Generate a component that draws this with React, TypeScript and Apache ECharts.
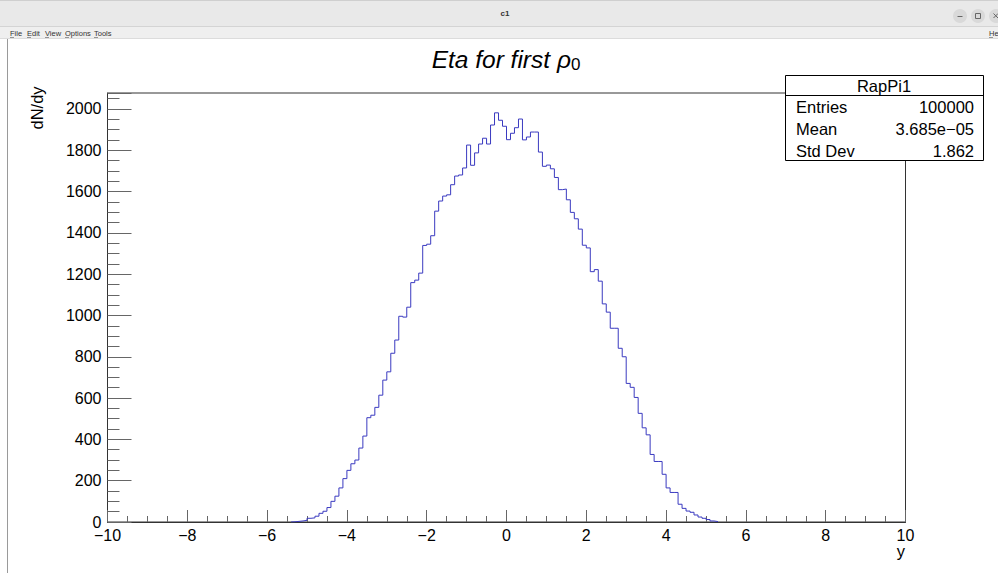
import React, { useEffect, useRef } from "react";
import * as echarts from "echarts";

// ---- data ----
const binStart = -5.4;
const binWidth = 0.1;
const counts = [
  1, 3, 5, 8, 18, 20, 28, 42, 52, 70,
  100, 125, 165, 210, 250, 282, 300, 358, 416, 505,
  517, 555, 614, 687, 727, 817, 881, 996, 992, 1040,
  1159, 1171, 1205, 1339, 1345, 1386, 1505, 1554, 1578, 1584,
  1633, 1675, 1680, 1714, 1825, 1727, 1787, 1830, 1858, 1830,
  1922, 1981, 1945, 1916, 1851, 1882, 1909, 1951, 1850, 1864,
  1888, 1888, 1791, 1722, 1728, 1710, 1668, 1609, 1612, 1560,
  1499, 1468, 1418, 1340, 1327, 1212, 1222, 1166, 1056, 1016,
  938, 938, 841, 800, 671, 652, 603, 526, 456, 422,
  327, 293, 293, 231, 165, 143, 143, 86, 66, 53,
  47, 34, 24, 18, 12, 5, 2,
];
const xMin = -10;
const xMax = 10;
const xInterval = 2;
const yMin = 0;
const yMax = 2077;
const yInterval = 200;
const titleMain = "Eta for first ρ";
const titleSub = "0";
const xTitle = "y";
const yTitle = "dN/dy";
const statsName = "RapPi1";
const statsLabels = ["Entries", "Mean", "Std Dev"];
const statsValues = ["100000", "3.685e−05", "1.862"];
const menuItems = ["File", "Edit", "View", "Options", "Tools"];

const FONT = "'Liberation Sans', Arial, Helvetica, sans-serif";

function buildSteps(): number[][] {
  const r = (v: number) => Math.round(v * 1000) / 1000;
  const pts: number[][] = [[r(binStart), 0]];
  counts.forEach((c, i) => pts.push([r(binStart + i * binWidth), c]));
  const endX = r(binStart + counts.length * binWidth);
  pts.push([endX, counts[counts.length - 1]]);
  pts.push([endX, 0]);
  return pts;
}

export default function App() {
  const ref = useRef<HTMLDivElement>(null);
  useEffect(() => {
    if (!ref.current) return;
    const chart = echarts.init(ref.current, undefined, { renderer: "svg" });

    const menuX = [10, 27, 45, 65, 94];
    const menuGraphics: any[] = [];
    menuItems.forEach((m, i) => {
      menuGraphics.push({
        type: "text",
        x: menuX[i],
        y: 33,
        style: { text: m, fontSize: 7.5, fontFamily: FONT, fill: "#333", verticalAlign: "middle", align: "left" },
      });
      menuGraphics.push({
        type: "line",
        shape: { x1: menuX[i], y1: 37.5, x2: menuX[i] + 4, y2: 37.5 },
        style: { stroke: "#555", lineWidth: 0.6 },
      });
    });

    const statRows: any[] = [];
    const rowY = [107, 129, 150.5];
    statsLabels.forEach((l, i) => {
      statRows.push({
        type: "text",
        x: 796,
        y: rowY[i],
        style: { text: l, fontSize: 16.5, fontFamily: FONT, fill: "#000", align: "left", verticalAlign: "middle" },
      });
      statRows.push({
        type: "text",
        x: 974,
        y: rowY[i],
        style: { text: statsValues[i], fontSize: 16.5, fontFamily: FONT, fill: "#000", align: "right", verticalAlign: "middle" },
      });
    });

    chart.setOption({
      animation: false,
      backgroundColor: "#ffffff",
      grid: {
        left: 107.5,
        top: 93,
        width: 798,
        height: 429,
        show: true,
        borderColor: "#333",
        borderWidth: 1,
        backgroundColor: "transparent",
        containLabel: false,
      },
      xAxis: {
        type: "value",
        min: xMin,
        max: xMax,
        interval: xInterval,
        axisLine: { show: true, onZero: false, lineStyle: { color: "#333", width: 1 } },
        axisTick: { show: true, inside: true, length: 12, lineStyle: { color: "#666", width: 1 } },
        minorTick: { show: true, splitNumber: 4, length: 6, lineStyle: { color: "#666", width: 1 } },
        splitLine: { show: false },
        minorSplitLine: { show: false },
        axisLabel: {
          show: true,
          margin: 6,
          fontSize: 16,
          lineHeight: 14,
          fontFamily: FONT,
          color: "#000",
          hideOverlap: false,
          formatter: (v: number) => (v < 0 ? "−" + Math.abs(v) : String(v)),
        },
      },
      yAxis: {
        type: "value",
        min: yMin,
        max: yMax,
        interval: yInterval,
        axisLine: { show: true, onZero: false, lineStyle: { color: "#333", width: 1 } },
        axisTick: { show: true, inside: true, length: 24, lineStyle: { color: "#666", width: 1 } },
        minorTick: { show: true, splitNumber: 4, length: 12, lineStyle: { color: "#666", width: 1 } },
        splitLine: { show: false },
        minorSplitLine: { show: false },
        axisLabel: {
          show: true,
          margin: 6,
          fontSize: 16,
          lineHeight: 10,
          fontFamily: FONT,
          color: "#000",
          showMaxLabel: false,
          hideOverlap: false,
          formatter: (v: number) => (v % yInterval === 0 ? String(v) : ""),
        },
      },
      series: [
        {
          type: "line",
          step: "end",
          data: buildSteps(),
          symbol: "none",
          lineStyle: { color: "#3a3ac0", width: 1 },
          clip: true,
          z: 3,
        },
      ],
      graphic: [
        // window title bar
        { type: "rect", shape: { x: 0, y: 0, width: 998, height: 26 }, style: { fill: "#e9e9e9" }, z: 0 },
        { type: "line", shape: { x1: 0, y1: 0.5, x2: 998, y2: 0.5 }, style: { stroke: "#cfcfcf", lineWidth: 1 } },
        { type: "rect", shape: { x: 0, y: 26, width: 998, height: 12 }, style: { fill: "#efefef" }, z: 0 },
        { type: "line", shape: { x1: 0, y1: 26.5, x2: 998, y2: 26.5 }, style: { stroke: "#d4d4d4", lineWidth: 1 } },
        { type: "line", shape: { x1: 0, y1: 38.5, x2: 998, y2: 38.5 }, style: { stroke: "#dcdcdc", lineWidth: 1 } },
        {
          type: "text",
          x: 505,
          y: 13,
          style: { text: "c1", fontSize: 8, fontWeight: "bold", fontFamily: FONT, fill: "#333", align: "center", verticalAlign: "middle" },
        },
        { type: "circle", shape: { cx: 960, cy: 16, r: 7 }, style: { fill: "#d9d9d9" } },
        { type: "circle", shape: { cx: 978, cy: 16, r: 7 }, style: { fill: "#d9d9d9" } },
        { type: "circle", shape: { cx: 996, cy: 16, r: 7 }, style: { fill: "#d9d9d9" } },
        { type: "line", shape: { x1: 957.5, y1: 16.5, x2: 962.5, y2: 16.5 }, style: { stroke: "#666", lineWidth: 1 } },
        { type: "rect", shape: { x: 975.5, y: 13.5, width: 5, height: 5 }, style: { fill: "none", stroke: "#666", lineWidth: 1 } },
        { type: "line", shape: { x1: 993.5, y1: 13.5, x2: 998, y2: 18 }, style: { stroke: "#666", lineWidth: 1 } },
        { type: "line", shape: { x1: 998, y1: 13.5, x2: 993.5, y2: 18 }, style: { stroke: "#666", lineWidth: 1 } },
        ...menuGraphics,
        {
          type: "text",
          x: 989,
          y: 33,
          style: { text: "He", fontSize: 7.5, fontFamily: FONT, fill: "#333", verticalAlign: "middle", align: "left" },
        },
        { type: "line", shape: { x1: 989, y1: 37.5, x2: 993, y2: 37.5 }, style: { stroke: "#555", lineWidth: 0.6 } },
        // canvas left border
        { type: "line", shape: { x1: 7.5, y1: 39, x2: 7.5, y2: 573 }, style: { stroke: "#9a9a9a", lineWidth: 1 } },
        // title
        {
          type: "text",
          x: 506,
          y: 46,
          style: {
            text: "{a|" + titleMain + "}{b|" + titleSub + "}",
            align: "center",
            verticalAlign: "top",
            rich: {
              a: { fontSize: 24.5, fontStyle: "italic", fontFamily: FONT, fill: "#000", lineHeight: 27, verticalAlign: "middle" },
              b: { fontSize: 17, fontFamily: FONT, fill: "#000", lineHeight: 9, verticalAlign: "bottom" },
            },
          },
        },
        // axis titles
        {
          type: "text",
          x: 37,
          y: 108,
          rotation: Math.PI / 2,
          style: { text: yTitle, fontSize: 16.5, fontFamily: FONT, fill: "#000", align: "center", verticalAlign: "middle" },
        },
        {
          type: "text",
          x: 905,
          y: 551,
          style: { text: xTitle, fontSize: 16.5, lineHeight: 14, fontFamily: FONT, fill: "#000", align: "right", verticalAlign: "middle" },
        },
        // stats box
        {
          type: "rect",
          shape: { x: 785.5, y: 75.5, width: 198, height: 85 },
          style: { fill: "#fff", stroke: "#000", lineWidth: 1 },
          z: 10,
        },
        { type: "line", shape: { x1: 785.5, y1: 95.5, x2: 983.5, y2: 95.5 }, style: { stroke: "#000", lineWidth: 1 }, z: 11 },
        {
          type: "text",
          x: 884,
          y: 85.5,
          z: 11,
          style: { text: statsName, fontSize: 16.5, fontFamily: FONT, fill: "#000", align: "center", verticalAlign: "middle" },
        },
        ...statRows.map((g) => ({ ...g, z: 11 })),
      ],
    });
    return () => chart.dispose();
  }, []);
  return <div ref={ref} style={{ position: "absolute", left: 0, top: 0, width: 998, height: 573 }} />;
}
